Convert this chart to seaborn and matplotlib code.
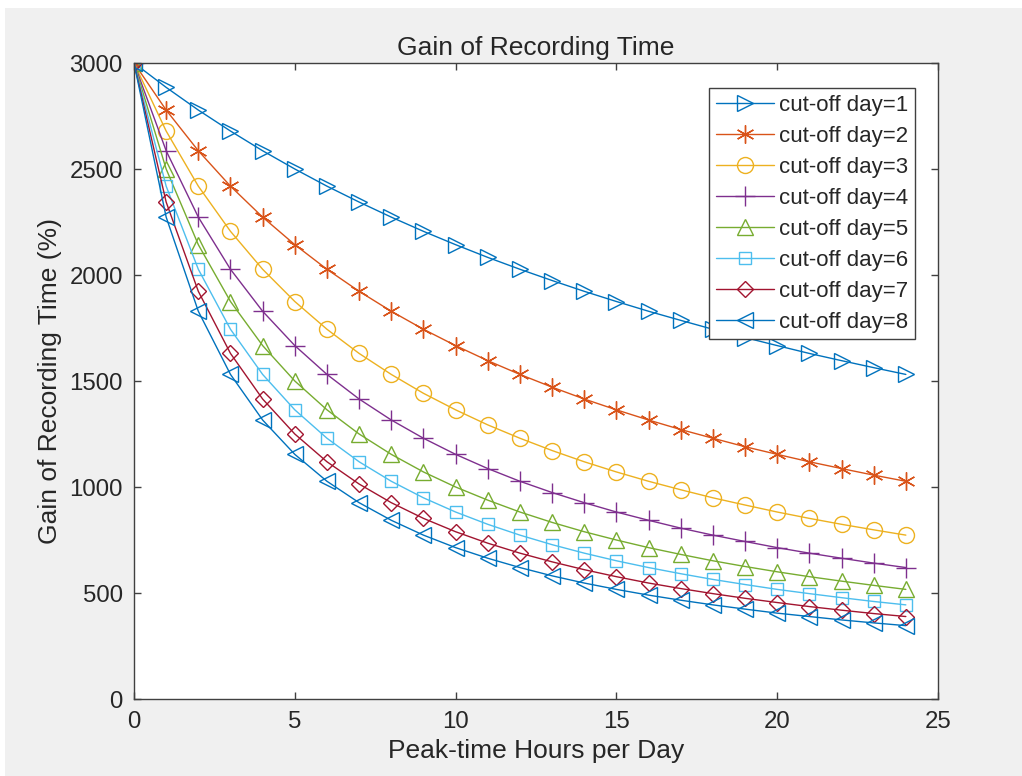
import pandas as pd
import matplotlib.pyplot as plt
import seaborn as sns
from matplotlib.patches import Rectangle

# peak-time hours per day (x axis)
hours = list(range(25))

# values, one list per cut-off day
day1 = [3000, 2885, 2778, 2679, 2586, 2500, 2419, 2344, 2273, 2206, 2143, 2083, 2027,
        1974, 1923, 1875, 1829, 1786, 1744, 1705, 1667, 1630, 1596, 1563, 1531]
day2 = [3000, 2778, 2586, 2419, 2273, 2143, 2027, 1923, 1829, 1744, 1667, 1596, 1531,
        1471, 1415, 1364, 1316, 1271, 1230, 1190, 1154, 1119, 1087, 1056, 1027]
day3 = [3000, 2679, 2419, 2206, 2027, 1875, 1744, 1630, 1531, 1442, 1364, 1293, 1230,
        1172, 1119, 1071, 1027, 987, 949, 915, 882, 852, 824, 798, 773]
day4 = [3000, 2586, 2273, 2027, 1829, 1667, 1531, 1415, 1316, 1230, 1154, 1087, 1027,
        974, 926, 882, 843, 806, 773, 743, 714, 688, 664, 641, 620]
day5 = [3000, 2500, 2143, 1875, 1667, 1500, 1364, 1250, 1154, 1071, 1000, 938, 882,
        833, 789, 750, 714, 682, 652, 625, 600, 577, 556, 536, 517]
day6 = [3000, 2419, 2027, 1744, 1531, 1364, 1230, 1119, 1027, 949, 882, 824, 773,
        728, 688, 652, 620, 591, 564, 540, 517, 497, 478, 460, 444]
day7 = [3000, 2344, 1923, 1630, 1415, 1250, 1119, 1014, 926, 852, 789, 735, 688,
        647, 610, 577, 547, 521, 497, 475, 455, 436, 419, 403, 389]
day8 = [3000, 2273, 1829, 1531, 1316, 1154, 1027, 926, 843, 773, 714, 664, 620,
        581, 547, 517, 490, 466, 444, 424, 405, 389, 373, 359, 346]

series = [day1, day2, day3, day4, day5, day6, day7, day8]
labels = [f"cut-off day={d}" for d in range(1, 9)]

# matlab default colour order, markers as in the figure
colors = ["#0072BD", "#D95319", "#EDB120", "#7E2F8E", "#77AC30", "#4DBEEE", "#A2142F", "#0072BD"]
markers = [">", (6, 2, 0), "o", "+", "^", "s", "D", "<"]
msizes = [12, 13, 11.5, 14, 12, 8.5, 8, 12]

rows = []
for lab, vals in zip(labels, series):
    for h, v in zip(hours, vals):
        rows.append({"hours": h, "gain": v, "series": lab})
df = pd.DataFrame(rows)

sns.set_style("ticks")
plt.rcParams["font.family"] = ["Liberation Sans", "DejaVu Sans"]
plt.rcParams["axes.edgecolor"] = "#404040"
plt.rcParams["xtick.color"] = "#404040"
plt.rcParams["ytick.color"] = "#404040"
plt.rcParams["xtick.labelcolor"] = "#262626"
plt.rcParams["ytick.labelcolor"] = "#262626"

fig = plt.figure(figsize=(10.22, 7.76), dpi=100, facecolor="#f0f0f0")
ax = fig.add_axes([134 / 1022, 77 / 776, 804 / 1022, 636 / 776])
ax.set_facecolor("white")

for lab, c, m, ms in zip(labels, colors, markers, msizes):
    sub = df[df["series"] == lab]
    sns.lineplot(data=sub, x="hours", y="gain", ax=ax, color=c, label=lab,
                 marker=m, markersize=ms, markerfacecolor="none", markeredgecolor=c,
                 markeredgewidth=1.0, linewidth=1.0)

ax.set_xlim(0, 25)
ax.set_ylim(0, 3000)
ax.set_xticks([0, 5, 10, 15, 20, 25])
ax.set_yticks([0, 500, 1000, 1500, 2000, 2500, 3000])
for s in ax.spines.values():
    s.set_visible(True)
    s.set_linewidth(1.0)
ax.tick_params(direction="in", length=5, width=1.0, labelsize=17.3,
               top=True, right=True)
ax.tick_params(axis="x", pad=9)
ax.tick_params(axis="y", pad=8)

ax.set_title("Gain of Recording Time", fontsize=19, color="#262626", pad=6)
ax.set_xlabel("Peak-time Hours per Day", fontsize=19, color="#262626", labelpad=4)
ax.set_ylabel("Gain of Recording Time (%)", fontsize=19, color="#262626", labelpad=5)

leg = ax.legend(loc="upper right", bbox_to_anchor=(0.9714, 0.9607), borderaxespad=0,
                fontsize=16, frameon=True, fancybox=False, framealpha=1,
                edgecolor="#404040", handlelength=2.6, handletextpad=0.25,
                labelspacing=0.45, borderpad=0.3, markerscale=1.0)
leg.get_frame().set_linewidth(1.0)

# white strips left by the screenshot at the top and left edges
fig.patches.append(Rectangle((0, 1 - 8 / 776), 1, 8 / 776, transform=fig.transFigure,
                             facecolor="white", edgecolor="none", zorder=-1))
fig.patches.append(Rectangle((0, 0), 5 / 1022, 1, transform=fig.transFigure,
                             facecolor="white", edgecolor="none", zorder=-1))

fig.savefig("out.png", dpi=100, facecolor=fig.get_facecolor())
